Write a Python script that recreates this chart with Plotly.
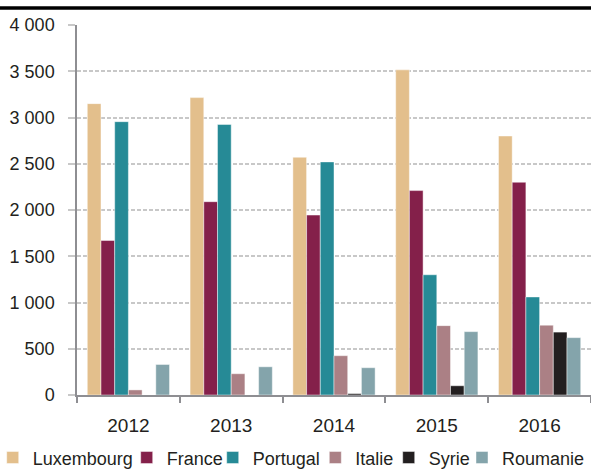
import plotly.graph_objects as go

years = ["2012", "2013", "2014", "2015", "2016"]
luxembourg = [3150, 3215, 2570, 3515, 2800]
france = [1670, 2090, 1945, 2210, 2300]
portugal = [2955, 2925, 2520, 1300, 1060]
italie = [55, 230, 425, 750, 755]
syrie = [0, 0, 15, 100, 680]
roumanie = [330, 305, 295, 685, 620]

series = [
    ("Luxembourg", luxembourg, "#e3bf8c"),
    ("France", france, "#84204a"),
    ("Portugal", portugal, "#268a96"),
    ("Italie", italie, "#ab8085"),
    ("Syrie", syrie, "#231f20"),
    ("Roumanie", roumanie, "#84a4ab"),
]

W, H = 591, 470
ML, MR, MT, MB = 77, 0, 24.5, 74.5
pw = W - ML - MR
ph = H - MT - MB

# reference legend text start positions (px)
text_px = [31.7, 165.7, 251.7, 354.3, 427.7, 501]

REG = "Liberation Sans, Arial, sans-serif"

fig = go.Figure()
for i, (name, vals, col) in enumerate(series):
    lg = "legend" if i == 0 else f"legend{i+1}"
    fig.add_trace(go.Bar(
        x=years, y=vals, name=name,
        marker=dict(color=col, line=dict(color="rgba(255,255,255,0.45)", width=1)),
        legend=lg,
    ))

layout_legends = {}
for i in range(6):
    key = "legend" if i == 0 else f"legend{i+1}"
    layout_legends[key] = dict(
        x=(text_px[i] - 39 - ML) / pw, xanchor="left",
        y=-(458.5 - (H - MB)) / ph, yanchor="middle",
        orientation="h", bgcolor="rgba(0,0,0,0)",
        font=dict(family=REG, size=18, color="#231f20"),
        itemwidth=30, borderwidth=0,
    )

fig.update_layout(
    width=W, height=H,
    margin=dict(l=ML, r=MR, t=MT, b=MB, pad=0, autoexpand=False),
    paper_bgcolor="white", plot_bgcolor="white",
    barmode="group", bargap=0.2, bargroupgap=0,
    separators=", ",
    font=dict(family=REG, size=17, color="#231f20"),
    showlegend=True,
    **layout_legends,
)
fig.update_xaxes(
    type="category", showgrid=False, showline=True, linecolor="#8e8e92", linewidth=2,
    ticks="outside", tickson="boundaries", ticklen=6, tickcolor="#8e8e92", tickwidth=1.5,
    ticklabelstandoff=12, tickfont=dict(family=REG, size=19, color="#231f20"),
)
fig.update_yaxes(
    range=[0, 4000], dtick=500, tickformat=",d",
    showgrid=True, gridcolor="#c8c8c8", gridwidth=1.5, griddash="4px,2px",
    showline=True, linecolor="#8e8e92", linewidth=1.5, zeroline=False,
    ticks="outside", ticklen=7, tickcolor="#c8c8c8", tickwidth=1.5,
    ticklabelstandoff=10, tickfont=dict(family=REG, size=18, color="#231f20"),
)
fig.add_shape(type="line", xref="paper", yref="paper",
              x0=-ML / pw, x1=1.0, y0=(H - MB - 7.5) / ph, y1=(H - MB - 7.5) / ph,
              line=dict(color="black", width=3.5))

fig.write_html("out.html", config={"displayModeBar": False},
               post_script="document.body.style.margin='0';")
